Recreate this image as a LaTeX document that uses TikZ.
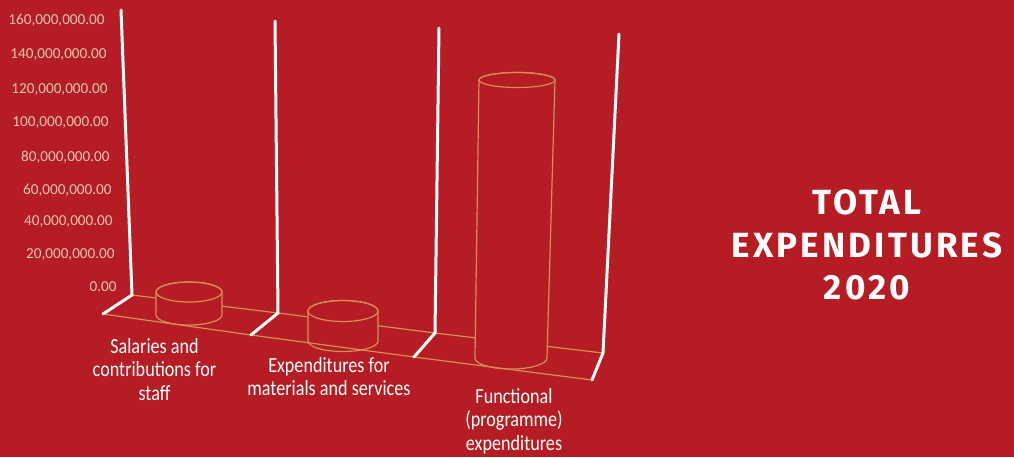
\documentclass[tikz,border=0pt]{standalone}
\usepackage{fontspec}
\newfontfamily\axisfont{Carlito}
\newfontfamily\catfont[FakeStretch=0.84]{Carlito}
\newfontfamily\titlefont[LetterSpace=9]{Fira Sans}
\definecolor{chartred}{RGB}{182,28,36}
\definecolor{barline}{RGB}{212,142,86}
\definecolor{ticktext}{RGB}{236,200,170}

\begin{document}
\begin{tikzpicture}[x=0.5pt, y=-0.5pt]  % 1 unit = 1 px of the page, y runs downwards

    % Define some common styles
    \tikzset{
        post/.style={white, line width=1.5pt, line cap=round, line join=round},
        floor/.style={barline, line width=0.6pt},
        bar/.style={barline, line width=0.6pt, fill=chartred},
        tick/.style={ticktext, anchor=east, inner sep=0pt, font=\axisfont\fontsize{7.6}{9}\selectfont},
        category/.style={white, anchor=north, inner sep=0pt, align=center, font=\catfont\fontsize{10.8}{11.75}\selectfont},
        heading/.style={white, inner sep=0pt, align=center, font=\titlefont\bfseries\fontsize{17.5}{21.25}\selectfont}
    }

    % Red page
    \fill[chartred] (0,0) rectangle (1014,457);
    \useasboundingbox (0,0) rectangle (1014,457);

    % Back edge of the floor
    \draw[floor] (132,295) -- (278,313) -- (435,333) -- (603,353);

    % Cylinder 1 - salaries
    \filldraw[bar] (156,292) -- (156,315) arc[start angle=180, end angle=0, x radius=33, y radius=10]
        -- (222,292) arc[start angle=0, end angle=-180, x radius=33, y radius=10] -- cycle;
    \draw[bar, fill=none] (189,292) ellipse [x radius=33, y radius=10];

    % Cylinder 2 - materials and services
    \filldraw[bar] (308,311) -- (308,341) arc[start angle=180, end angle=0, x radius=35, y radius=10.5]
        -- (378,311) arc[start angle=0, end angle=-180, x radius=35, y radius=10.5] -- cycle;
    \draw[bar, fill=none] (343,311) ellipse [x radius=35, y radius=10.5];

    % Cylinder 3 - functional expenditures
    \filldraw[bar] (479,80) -- (475,358) arc[start angle=180, end angle=0, x radius=36, y radius=11]
        -- (555,80) arc[start angle=0, end angle=-180, x radius=38, y radius=7.5] -- cycle;
    \draw[bar, fill=none] (517,80) ellipse [x radius=38, y radius=7.5];

    % Front edge of the floor
    \draw[floor] (103,314) -- (251,335) -- (414,357) -- (592,380);

    % White posts with their feet
    \draw[post] (121,10) -- (132,295) -- (103,314);
    \draw[post] (275,21) -- (278,313) -- (251,335);
    \draw[post] (439,28) -- (435,333) -- (414,357);
    \draw[post] (619,34) -- (603,353) -- (592,380);

    % Value axis
    \node[tick] (v0)   at (117,287) {0.00};
    \node[tick] (v20)  at (115,255) {20,000,000.00};
    \node[tick] (v40)  at (113,222) {40,000,000.00};
    \node[tick] (v60)  at (112,190) {60,000,000.00};
    \node[tick] (v80)  at (110,157) {80,000,000.00};
    \node[tick] (v100) at (109,123) {100,000,000.00};
    \node[tick] (v120) at (108,90)  {120,000,000.00};
    \node[tick] (v140) at (107,55)  {140,000,000.00};
    \node[tick] (v160) at (105,20)  {160,000,000.00};

    % Categories
    \node[category] (salaries)   at (154.5,338) {Salaries and\\contributions for\\staff};
    \node[category] (materials)  at (329,357)   {Expenditures for\\materials and services};
    \node[category] (functional) at (514,388)   {Functional\\(programme)\\expenditures};

    % Title
    \node[heading] (title) at (867,245) {TOTAL\\EXPENDITURES\\2020};

\end{tikzpicture}
\end{document}
